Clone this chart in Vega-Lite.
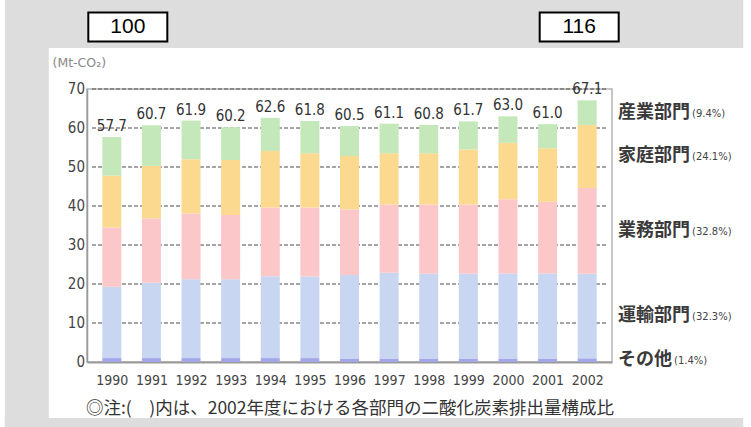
{
  "$schema": "https://vega.github.io/schema/vega-lite/v6.json",
  "width": 525,
  "height": 273,
  "autosize": {"type": "none"},
  "padding": {"left": 87, "top": 89, "right": 139, "bottom": 65},
  "background": "white",
  "view": {"stroke": "#b4b4b4", "strokeWidth": 1.5},
  "datasets": {
    "emissions": [
      {"year": 1990, "sector": "その他", "k": 1, "value": 1.0},
      {"year": 1990, "sector": "運輸部門", "k": 2, "value": 18.3},
      {"year": 1990, "sector": "業務部門", "k": 3, "value": 15.2},
      {"year": 1990, "sector": "家庭部門", "k": 4, "value": 13.3},
      {"year": 1990, "sector": "産業部門", "k": 5, "value": 9.9},
      {"year": 1991, "sector": "その他", "k": 1, "value": 1.0},
      {"year": 1991, "sector": "運輸部門", "k": 2, "value": 19.3},
      {"year": 1991, "sector": "業務部門", "k": 3, "value": 16.5},
      {"year": 1991, "sector": "家庭部門", "k": 4, "value": 13.5},
      {"year": 1991, "sector": "産業部門", "k": 5, "value": 10.4},
      {"year": 1992, "sector": "その他", "k": 1, "value": 1.0},
      {"year": 1992, "sector": "運輸部門", "k": 2, "value": 20.2},
      {"year": 1992, "sector": "業務部門", "k": 3, "value": 16.9},
      {"year": 1992, "sector": "家庭部門", "k": 4, "value": 13.9},
      {"year": 1992, "sector": "産業部門", "k": 5, "value": 9.9},
      {"year": 1993, "sector": "その他", "k": 1, "value": 1.0},
      {"year": 1993, "sector": "運輸部門", "k": 2, "value": 20.2},
      {"year": 1993, "sector": "業務部門", "k": 3, "value": 16.5},
      {"year": 1993, "sector": "家庭部門", "k": 4, "value": 14.1},
      {"year": 1993, "sector": "産業部門", "k": 5, "value": 8.4},
      {"year": 1994, "sector": "その他", "k": 1, "value": 1.0},
      {"year": 1994, "sector": "運輸部門", "k": 2, "value": 21.0},
      {"year": 1994, "sector": "業務部門", "k": 3, "value": 17.6},
      {"year": 1994, "sector": "家庭部門", "k": 4, "value": 14.5},
      {"year": 1994, "sector": "産業部門", "k": 5, "value": 8.5},
      {"year": 1995, "sector": "その他", "k": 1, "value": 1.0},
      {"year": 1995, "sector": "運輸部門", "k": 2, "value": 20.9},
      {"year": 1995, "sector": "業務部門", "k": 3, "value": 17.7},
      {"year": 1995, "sector": "家庭部門", "k": 4, "value": 13.9},
      {"year": 1995, "sector": "産業部門", "k": 5, "value": 8.3},
      {"year": 1996, "sector": "その他", "k": 1, "value": 0.9},
      {"year": 1996, "sector": "運輸部門", "k": 2, "value": 21.4},
      {"year": 1996, "sector": "業務部門", "k": 3, "value": 16.8},
      {"year": 1996, "sector": "家庭部門", "k": 4, "value": 13.7},
      {"year": 1996, "sector": "産業部門", "k": 5, "value": 7.7},
      {"year": 1997, "sector": "その他", "k": 1, "value": 0.9},
      {"year": 1997, "sector": "運輸部門", "k": 2, "value": 22.0},
      {"year": 1997, "sector": "業務部門", "k": 3, "value": 17.5},
      {"year": 1997, "sector": "家庭部門", "k": 4, "value": 13.1},
      {"year": 1997, "sector": "産業部門", "k": 5, "value": 7.6},
      {"year": 1998, "sector": "その他", "k": 1, "value": 0.9},
      {"year": 1998, "sector": "運輸部門", "k": 2, "value": 21.7},
      {"year": 1998, "sector": "業務部門", "k": 3, "value": 17.8},
      {"year": 1998, "sector": "家庭部門", "k": 4, "value": 13.1},
      {"year": 1998, "sector": "産業部門", "k": 5, "value": 7.3},
      {"year": 1999, "sector": "その他", "k": 1, "value": 0.9},
      {"year": 1999, "sector": "運輸部門", "k": 2, "value": 21.7},
      {"year": 1999, "sector": "業務部門", "k": 3, "value": 17.8},
      {"year": 1999, "sector": "家庭部門", "k": 4, "value": 14.1},
      {"year": 1999, "sector": "産業部門", "k": 5, "value": 7.2},
      {"year": 2000, "sector": "その他", "k": 1, "value": 0.9},
      {"year": 2000, "sector": "運輸部門", "k": 2, "value": 21.8},
      {"year": 2000, "sector": "業務部門", "k": 3, "value": 19.0},
      {"year": 2000, "sector": "家庭部門", "k": 4, "value": 14.5},
      {"year": 2000, "sector": "産業部門", "k": 5, "value": 6.8},
      {"year": 2001, "sector": "その他", "k": 1, "value": 0.9},
      {"year": 2001, "sector": "運輸部門", "k": 2, "value": 21.8},
      {"year": 2001, "sector": "業務部門", "k": 3, "value": 18.4},
      {"year": 2001, "sector": "家庭部門", "k": 4, "value": 13.7},
      {"year": 2001, "sector": "産業部門", "k": 5, "value": 6.2},
      {"year": 2002, "sector": "その他", "k": 1, "value": 0.94},
      {"year": 2002, "sector": "運輸部門", "k": 2, "value": 21.67},
      {"year": 2002, "sector": "業務部門", "k": 3, "value": 22.01},
      {"year": 2002, "sector": "家庭部門", "k": 4, "value": 16.17},
      {"year": 2002, "sector": "産業部門", "k": 5, "value": 6.31}
    ],
    "index": [
      {"year": 1990, "index": 100},
      {"year": 2002, "index": 116}
    ],
    "ticks": [
      {"tick": 0}, {"tick": 10}, {"tick": 20}, {"tick": 30}, {"tick": 40}, {"tick": 50}, {"tick": 60}, {"tick": 70}
    ]
  },
  "data": {"name": "emissions"},
  "layer": [
    {
      "data": {"name": "ticks"},
      "transform": [{"filter": "datum.tick > 0"}],
      "mark": {"type": "rule", "color": "#4a4a4a", "strokeWidth": 1, "strokeDash": [4, 2]},
      "encoding": {
        "x": {"datum": 1989.5, "type": "quantitative"},
        "x2": {"datum": 2002.5},
        "y": {"field": "tick", "type": "quantitative"}
      }
    },
    {
      "transform": [{"stack": "value", "groupby": ["year"], "sort": [{"field": "k", "order": "ascending"}], "as": ["v0", "v1"]}],
      "mark": {"type": "bar", "width": 19},
      "encoding": {
        "x": {
          "field": "year", "type": "quantitative",
          "scale": {"domain": [1989.5, 2002.5], "nice": false, "zero": false},
          "axis": {
            "values": [1990, 1991, 1992, 1993, 1994, 1995, 1996, 1997, 1998, 1999, 2000, 2001, 2002],
            "format": "d", "labelFlush": false, "labelOverlap": false,
            "grid": false, "ticks": false,
            "domainColor": "#9a9a9a", "domainWidth": 2,
            "labelFont": "DejaVu Sans Condensed, DejaVu Sans, sans-serif",
            "labelFontSize": 14, "labelColor": "#444", "labelPadding": 11,
            "title": "◎注:(　)内は、2002年度における各部門の二酸化炭素排出量構成比",
            "titleFont": "Noto Sans CJK JP", "titleFontSize": 17.5, "titleFontWeight": "normal",
            "titleColor": "#333", "titleY": 46, "titleBaseline": "middle"
          }
        },
        "y": {
          "field": "v0", "type": "quantitative",
          "scale": {"domain": [0, 70], "nice": false},
          "axis": {
            "labels": false, "grid": false, "ticks": false,
            "domainColor": "#9a9a9a", "domainWidth": 1.5,
            "title": "(Mt-CO₂)", "titleAngle": 0, "titleAlign": "left", "titleBaseline": "middle",
            "titleX": -35, "titleY": -27,
            "titleFont": "DejaVu Sans", "titleFontSize": 12.5, "titleFontWeight": "normal", "titleColor": "#888"
          }
        },
        "y2": {"field": "v1"},
        "color": {
          "field": "sector", "type": "nominal",
          "scale": {
            "domain": ["その他", "運輸部門", "業務部門", "家庭部門", "産業部門"],
            "range": ["#a3a6e8", "#c8d6f2", "#fbc7c9", "#fbd98f", "#c5e8bb"]
          },
          "legend": null
        }
      }
    },
    {
      "data": {"name": "ticks"},
      "mark": {"type": "text", "align": "right", "baseline": "middle", "dx": -7, "font": "DejaVu Sans Condensed, DejaVu Sans, sans-serif", "fontSize": 15, "color": "#444"},
      "encoding": {
        "x": {"datum": 1989.5, "type": "quantitative"},
        "y": {"field": "tick", "type": "quantitative"},
        "text": {"field": "tick", "type": "quantitative", "format": "d"}
      }
    },
    {
      "transform": [{"aggregate": [{"op": "sum", "field": "value", "as": "total"}], "groupby": ["year"]}],
      "mark": {"type": "text", "baseline": "bottom", "dy": -3, "font": "DejaVu Sans Condensed, DejaVu Sans, sans-serif", "fontSize": 15, "color": "#333"},
      "encoding": {
        "x": {"field": "year", "type": "quantitative"},
        "y": {"field": "total", "type": "quantitative"},
        "text": {"field": "total", "type": "quantitative", "format": ".1f"}
      }
    },
    {
      "transform": [
        {"filter": "datum.year === 2002"},
        {"stack": "value", "groupby": ["year"], "sort": [{"field": "k", "order": "ascending"}], "as": ["v0", "v1"]},
        {"calculate": "(datum.v0 + datum.v1) / 2", "as": "mid"}
      ],
      "mark": {"type": "text", "align": "left", "baseline": "middle", "dx": 11, "font": "Noto Sans CJK JP", "fontSize": 18, "fontWeight": "bold", "color": "#3a3a3a"},
      "encoding": {
        "x": {"datum": 2002.5, "type": "quantitative"},
        "y": {"field": "mid", "type": "quantitative"},
        "text": {"field": "sector"}
      }
    },
    {
      "transform": [
        {"filter": "datum.year === 2002"},
        {"stack": "value", "groupby": ["year"], "sort": [{"field": "k", "order": "ascending"}], "as": ["v0", "v1"]},
        {"calculate": "(datum.v0 + datum.v1) / 2", "as": "mid"},
        {"joinaggregate": [{"op": "sum", "field": "value", "as": "total"}]},
        {"calculate": "'(' + format(datum.value / datum.total, '.1%') + ')'", "as": "share"}
      ],
      "mark": {"type": "text", "align": "left", "baseline": "middle", "dy": 1, "dx": {"expr": "datum.k === 1 ? 67 : 85"}, "font": "DejaVu Sans", "fontSize": 10, "color": "#444"},
      "encoding": {
        "x": {"datum": 2002.5, "type": "quantitative"},
        "y": {"field": "mid", "type": "quantitative"},
        "text": {"field": "share"}
      }
    },
    {
      "data": {"values": [{}]},
      "mark": {"type": "rect", "color": "#dddddd"},
      "encoding": {
        "x": {"datum": 1987.3, "type": "quantitative"},
        "x2": {"datum": 2005.94},
        "y": {"datum": 80.51, "type": "quantitative"},
        "y2": {"datum": 95}
      }
    },
    {
      "data": {"values": [{}]},
      "mark": {"type": "rect", "color": "#dddddd"},
      "encoding": {
        "x": {"datum": 1987.3, "type": "quantitative"},
        "x2": {"datum": 1988.41},
        "y": {"datum": -17, "type": "quantitative"},
        "y2": {"datum": 80.51}
      }
    },
    {
      "data": {"values": [{}]},
      "mark": {"type": "rect", "color": "#dddddd"},
      "encoding": {
        "x": {"datum": 1987.3, "type": "quantitative"},
        "x2": {"datum": 2005.94},
        "y": {"datum": -17, "type": "quantitative"},
        "y2": {"datum": -14.36}
      }
    },
    {
      "data": {"name": "index"},
      "mark": {"type": "rect", "width": 79, "height": 29, "fill": "white", "stroke": "black", "strokeWidth": 2, "xOffset": {"expr": "datum.year === 1990 ? 16 : -8"}},
      "encoding": {
        "x": {"field": "year", "type": "quantitative"},
        "y": {"datum": 85.9, "type": "quantitative"}
      }
    },
    {
      "data": {"name": "index"},
      "mark": {"type": "text", "baseline": "middle", "font": "Liberation Sans", "fontSize": 21, "color": "black", "xOffset": {"expr": "datum.year === 1990 ? 16 : -8"}},
      "encoding": {
        "x": {"field": "year", "type": "quantitative"},
        "y": {"datum": 85.9, "type": "quantitative"},
        "text": {"field": "index"}
      }
    }
  ]
}
